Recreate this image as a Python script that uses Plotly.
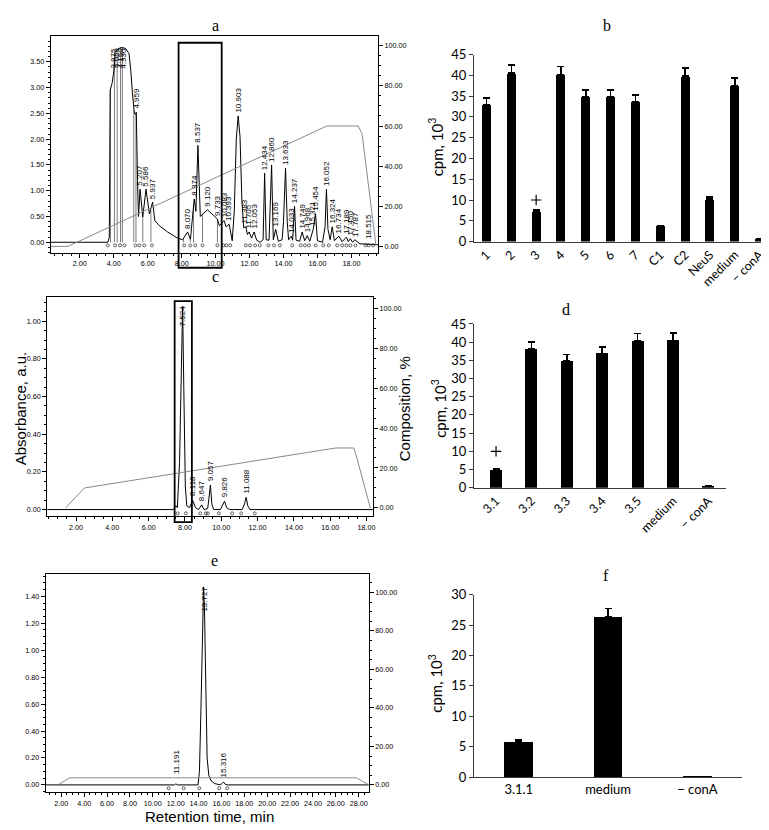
import plotly.graph_objects as go

W, H = 769, 830

# ====================== DATA ======================
# ---- Panel a: chromatogram (time, min ; absorbance, a.u.) ----
a_time = [0.28, 3.65, 3.74, 3.79, 3.90, 4.00, 4.08, 4.25, 4.45, 4.70, 4.90, 5.00, 5.10, 5.20, 5.27,
          5.33, 5.40, 5.46, 5.55, 5.71, 5.90, 6.10, 6.29, 6.42, 6.69, 7.17, 7.76, 8.06, 8.35, 8.52,
          8.74, 8.84, 8.96, 9.10, 9.25, 9.52, 9.85, 10.11, 10.22, 10.50, 10.62, 10.80, 10.98, 11.10,
          11.22, 11.33, 11.44, 11.55, 11.66, 11.78, 11.88, 11.98, 12.12, 12.27, 12.42, 12.62, 12.80,
          12.89, 12.98, 13.15, 13.30, 13.40, 13.54, 13.70, 13.92, 14.00, 14.12, 14.22, 14.30, 14.46,
          14.54, 14.65, 14.74, 14.95, 15.10, 15.25, 15.40, 15.55, 15.75, 15.89, 16.00, 16.30, 16.45,
          16.53, 16.62, 16.75, 16.87, 17.00, 17.26, 17.45, 17.71, 17.82, 17.94, 18.07, 18.20, 18.50,
          19.16, 19.57]
a_abs = [0.00, 0.00, 0.10, 2.95, 3.08, 3.30, 3.68, 3.75, 3.78, 3.76, 3.66, 3.35, 2.90, 2.55, 2.48,
         2.52, 1.20, 0.50, 1.03, 0.49, 1.03, 0.55, 0.78, 0.42, 0.32, 0.20, 0.08, 0.05, 0.20, 0.06,
         0.84, 0.60, 1.88, 0.50, 0.55, 0.63, 0.53, 0.45, 0.32, 0.42, 0.30, 0.35, 0.03, 0.60,
         2.00, 2.45, 2.05, 0.80, 0.28, 0.30, 0.15, 0.20, 0.08, 0.20, 0.04, 0.00, 0.05,
         1.34, 0.05, 0.04, 1.50, 0.05, 0.25, 0.02, 0.05, 0.40, 1.44, 0.40, 0.05, 0.12,
         0.04, 0.70, 0.04, 0.02, 0.20, 0.03, 0.13, 0.02, 0.25, 0.55, 0.03, 0.00, 0.30,
         1.03, 0.25, 0.05, 0.30, 0.03, 0.12, 0.01, 0.10, 0.01, 0.07, 0.00, 0.05, -0.03,
         -0.04, -0.05]
a_grad_time = [0.28, 1.30, 16.55, 18.40, 18.63, 19.44]
a_grad_pct = [0, 0, 60, 60, 56, 1]
a_peak_text = ["4.959", "5.207", "5.586", "5.937", "8.070", "8.374", "8.537", "9.120", "9.733",
               "10.083", "10.393", "10.903", "11.383", "11.705", "12.053", "12.434", "12.860",
               "13.169", "13.633", "14.033", "14.237", "14.749", "14.968", "15.321", "15.454",
               "16.052", "16.324", "16.734", "17.189", "17.450", "17.787", "18.515"]
a_peak_time = [5.33, 5.55, 5.90, 6.29, 8.35, 8.74, 8.96, 9.52, 10.11, 10.50, 10.75, 11.33, 11.72,
               11.95, 12.27, 12.89, 13.30, 13.54, 14.12, 14.46, 14.65, 15.10, 15.40, 15.75, 15.89,
               16.53, 16.87, 17.26, 17.71, 17.94, 18.20, 19.05]
a_peak_abs = [2.55, 1.05, 1.05, 0.80, 0.22, 0.86, 1.90, 0.65, 0.47, 0.44, 0.37, 2.47, 0.32, 0.22,
              0.22, 1.36, 1.52, 0.27, 1.46, 0.14, 0.72, 0.22, 0.15, 0.27, 0.57, 1.05, 0.32, 0.14,
              0.12, 0.09, 0.07, 0.02]
a_top_text = ["3.875", "4.059", "4.150", "4.330"]
a_top_time = [4.00, 4.20, 4.40, 4.59]
a_top_abs = [3.80, 3.80, 3.80, 3.80]
a_drop_time = [3.81, 4.04, 4.20, 4.40, 4.51, 5.18, 5.31, 5.71, 6.19, 8.11, 8.51, 8.70, 9.23, 10.11]
a_drop_abs = [3.00, 3.50, 3.75, 3.78, 3.77, 2.56, 2.50, 0.49, 0.62, 0.06, 0.08, 0.70, 0.55, 0.45]
a_int_time = [3.65, 4.08, 4.37, 4.63, 5.28, 5.51, 5.80, 6.25, 8.15, 8.51, 8.80, 9.23, 10.11, 10.46,
              10.64, 10.86, 11.78, 12.03, 12.33, 12.60, 13.11, 13.44, 13.79, 14.52, 15.01, 15.26,
              15.50, 15.89, 16.34, 16.67, 17.16, 17.46, 17.71, 17.94, 18.24, 18.83, 19.02, 19.28]
a_box_time = [7.82, 10.36]

# ---- Panel b ----
b_cats = ["1", "2", "3", "4", "5", "6", "7", "C1", "C2", "NeuS", "medium", "\u2212 conA"]
b_vals = [33.0, 40.5, 7.3, 40.1, 34.9, 34.8, 33.7, 3.8, 39.8, 10.2, 37.6, 0.7]
b_err = [1.6, 2.0, 0.4, 2.0, 1.6, 1.7, 1.6, 0.0, 1.9, 0.5, 1.8, 0.0]
b_sig_cat = ["3"]
b_sig_val = [10.0]

# ---- Panel c ----
c_time = [0.41, 7.35, 7.50, 7.58, 7.70, 7.78, 7.87, 7.95, 8.02, 8.10, 8.25, 8.42, 8.58, 8.75, 8.92,
          9.05, 9.25, 9.32, 9.40, 9.48, 9.58, 9.95, 10.08, 10.18, 10.30, 10.45, 11.15, 11.28, 11.37,
          11.46, 11.58, 18.36]
c_abs = [0.0, 0.0, 0.02, 0.01, 0.25, 0.75, 1.08, 0.55, 0.12, 0.02, 0.01, 0.05, 0.01, 0.0, 0.025,
         0.0, 0.005, 0.06, 0.13, 0.03, 0.0, 0.0, 0.03, 0.045, 0.01, 0.0, 0.0, 0.03, 0.065,
         0.02, 0.0, 0.0]
c_grad_time = [1.42, 2.46, 16.30, 17.30, 17.44, 18.21]
c_grad_pct = [0, 10, 30, 30, 26, 0]
c_peak_text = ["8.118", "8.647", "9.057", "9.826", "11.088"]
c_peak_time = [8.42, 8.92, 9.40, 10.18, 11.37]
c_peak_abs = [0.06, 0.035, 0.14, 0.055, 0.075]
c_top_text = ["7.524"]
c_top_time = [7.87]
c_top_abs = [1.09]
c_int_time = [7.60, 8.05, 8.84, 9.15, 9.26, 9.87, 10.60, 11.10, 11.84]
c_box_time = [7.43, 8.38]

# ---- Panel d ----
d_cats = ["3.1", "3.2", "3.3", "3.4", "3.5", "medium", "\u2212 conA"]
d_vals = [4.9, 38.2, 34.9, 36.9, 40.3, 40.5, 0.5]
d_err = [0.3, 1.9, 1.7, 1.8, 2.1, 2.0, 0.0]
d_sig_cat = ["3.1"]
d_sig_val = [10.0]

# ---- Panel e ----
e_time = [0.63, 11.90, 12.02, 12.15, 13.95, 14.08, 14.22, 14.35, 14.44, 14.52, 14.62, 14.75, 14.90,
          15.10, 15.40, 15.90, 16.05, 16.18, 16.32, 16.50, 28.88]
e_abs = [0.0, 0.0, 0.008, 0.0, 0.0, 0.10, 0.60, 1.30, 1.47, 1.30, 0.70, 0.20, 0.07,
         0.03, 0.01, 0.0, 0.01, 0.022, 0.005, 0.0, 0.0]
e_grad_time = [1.71, 2.73, 27.80, 28.88]
e_grad_pct = [0, 3.7, 3.7, 0]
e_peak_text = ["11.191", "15.316"]
e_peak_time = [12.02, 16.18]
e_peak_abs = [0.065, 0.04]
e_top_text = ["13.727"]
e_top_time = [14.44]
e_top_abs = [1.48]
e_int_time = [11.39, 12.70, 14.06, 15.80, 16.50]

# ---- Panel f ----
f_cats = ["3.1.1", "medium", "\u2212 conA"]
f_vals = [5.9, 26.4, 0.1]
f_err = [0.3, 1.3, 0.0]

# ====================== LAYOUT GEOMETRY ======================
def PX(x):
    return x / W

def PY(y):
    return 1 - y / H

# chromatogram panels: (x domain, y domain, x range, left y range, right y range)
A = dict(xd=[PX(42.7), PX(371)], yd=[PY(241.5), PY(20.7)], xr=[0.28, 19.57],
         yl=[-0.205, 3.995], yr=[-3.2, 104.7], dl=0.5, ml=0.1, io=-0.06)
C = dict(xd=[PX(39.3), PX(366)], yd=[PY(510), PY(287)], xr=[0.41, 18.36],
         yl=[-0.035, 1.126], yr=[-4.1, 105.3], dl=0.2, ml=0.05, io=-0.02)
E = dict(xd=[PX(37.7), PX(361.7)], yd=[PY(791.7), PY(569.3)], xr=[0.63, 28.88],
         yl=[-0.056, 1.563], yr=[-3.9, 109.4], dl=0.2, ml=0.05, io=-0.025)

TICKFONT = dict(size=7.2, family="Liberation Sans", color="black")
BARFONT = "Lato"


def chrom_axes(P, xname, yname, y2name):
    xa = dict(domain=P["xd"], range=P["xr"], anchor=yname, tick0=0, dtick=2, tickformat=".2f",
              ticks="outside", ticklen=4, tickwidth=1, tickcolor="black",
              minor=dict(ticks="outside", ticklen=2, dtick=0.5, tickcolor="black", tickwidth=0.7),
              showline=True, linecolor="black", linewidth=1, mirror=True,
              showgrid=False, zeroline=False, tickfont=TICKFONT)
    ya = dict(domain=P["yd"], range=P["yl"], anchor=xname, tick0=0, dtick=P["dl"], tickformat=".2f",
              ticks="outside", ticklen=4, tickwidth=1, tickcolor="black",
              minor=dict(ticks="outside", ticklen=2, dtick=P["ml"], tickcolor="black", tickwidth=0.7),
              showline=True, linecolor="black", linewidth=1, mirror=True,
              showgrid=False, zeroline=False, tickfont=TICKFONT)
    y2 = dict(overlaying=yname, side="right", anchor=xname, range=P["yr"], tick0=0, dtick=20,
              tickformat=".2f", ticks="outside", ticklen=4, tickwidth=1, tickcolor="black",
              minor=dict(ticks="outside", ticklen=2, dtick=5, tickcolor="black", tickwidth=0.7),
              showline=True, linecolor="black", linewidth=1,
              showgrid=False, zeroline=False, tickfont=TICKFONT)
    return xa, ya, y2


def bar_axes(xdom, ydom, xrange, yrange, ydtick, xname, yname, tickangle):
    xa = dict(domain=xdom, range=xrange, anchor=yname, type="category", showline=True,
              linecolor="#3a3a3a", linewidth=1.2, ticks="", showgrid=False, zeroline=False,
              tickangle=tickangle, tickfont=dict(size=12.5, family=BARFONT, color="black"))
    ya = dict(domain=ydom, range=yrange, anchor=xname, dtick=ydtick, showline=True,
              linecolor="#3a3a3a", linewidth=1.2, ticks="outside", ticklen=4, tickcolor="#3a3a3a",
              showgrid=False, zeroline=False,
              tickfont=dict(size=13, family=BARFONT, color="black"))
    return xa, ya


fig = go.Figure()

# ---------------- chromatogram traces ----------------
def add_chrom(P, t, v, gt, gp, dt, dv, it, xname, yname, y2name):
    fig.add_trace(go.Scatter(x=gt, y=gp, mode="lines", line=dict(color="#8a8a8a", width=1),
                             xaxis=xname, yaxis=y2name, hoverinfo="skip"))
    if dt:
        xs, ys = [], []
        for tt, vv in zip(dt, dv):
            xs += [tt, tt, None]
            ys += [0, vv, None]
        fig.add_trace(go.Scatter(x=xs, y=ys, mode="lines", line=dict(color="#444", width=0.7),
                                 xaxis=xname, yaxis=yname, hoverinfo="skip"))
    fig.add_trace(go.Scatter(x=t, y=v, mode="lines", line=dict(color="black", width=1),
                             xaxis=xname, yaxis=yname))
    fig.add_trace(go.Scatter(x=it, y=[P["io"]] * len(it), mode="markers",
                             marker=dict(symbol="circle-open", size=3, color="black",
                                         line=dict(width=0.6, color="black")),
                             xaxis=xname, yaxis=yname, hoverinfo="skip"))


add_chrom(A, a_time, a_abs, a_grad_time, a_grad_pct, a_drop_time, a_drop_abs, a_int_time, "x", "y", "y2")
add_chrom(C, c_time, c_abs, c_grad_time, c_grad_pct, [], [], c_int_time, "x3", "y4", "y5")
add_chrom(E, e_time, e_abs, e_grad_time, e_grad_pct, [], [], e_int_time, "x5", "y7", "y8")

# ---------------- bar traces ----------------
def add_bars(cats, vals, err, width, xname, yname):
    fig.add_trace(go.Bar(x=cats, y=vals, width=width, marker=dict(color="black", line=dict(width=0)),
                         error_y=dict(type="data", array=err, arrayminus=[0] * len(err),
                                      symmetric=False, color="black", thickness=1.6, width=3.5),
                         xaxis=xname, yaxis=yname))


add_bars(b_cats, b_vals, b_err, 0.36, "x2", "y3")
add_bars(d_cats, d_vals, d_err, 0.34, "x4", "y6")
add_bars(f_cats, f_vals, f_err, 0.32, "x6", "y9")
for cats, vals, xn, yn in [(b_sig_cat, b_sig_val, "x2", "y3"), (d_sig_cat, d_sig_val, "x4", "y6")]:
    fig.add_trace(go.Scatter(x=cats, y=vals, mode="markers", xaxis=xn, yaxis=yn,
                             marker=dict(symbol="cross-thin", size=7.5,
                                         line=dict(width=1.2, color="black"))))

# ---------------- axes ----------------
layout = dict(width=W, height=H, margin=dict(l=0, r=0, t=0, b=0), showlegend=False,
              plot_bgcolor="white", paper_bgcolor="white", bargap=0)
xa, ya, y2 = chrom_axes(A, "x", "y", "y2")
layout.update(xaxis=xa, yaxis=ya, yaxis2=y2)
xa, ya, y2 = chrom_axes(C, "x3", "y4", "y5")
layout.update(xaxis3=xa, yaxis4=ya, yaxis5=y2)
xa, ya, y2 = chrom_axes(E, "x5", "y7", "y8")
layout.update(xaxis5=xa, yaxis7=ya, yaxis8=y2)

xa, ya = bar_axes([PX(467.3), PX(766)], [PY(230), PY(39.3)], [-0.5, 11.5], [0, 45], 5, "x2", "y3", -45)
layout.update(xaxis2=xa, yaxis3=ya)
xa, ya = bar_axes([PX(467.3), PX(720)], [PY(481), PY(314)], [-0.62, 6.5], [0, 45], 5, "x4", "y6", -45)
layout.update(xaxis4=xa, yaxis6=ya)
xa, ya = bar_axes([PX(467.3), PX(736)], [PY(776), PY(590)], [-0.5, 2.5], [0, 30], 5, "x6", "y9", 0)
xa["tickfont"]["size"] = 13
layout.update(xaxis6=xa, yaxis9=ya)

# ---------------- annotations ----------------
ann = []
LBL = dict(size=8, family="Liberation Sans", color="black")


def peak_labels(texts, ts, vs, xname, yname, anchor):
    for s, t, v in zip(texts, ts, vs):
        ann.append(dict(text=s, x=t, y=v, xref=xname, yref=yname, showarrow=False, textangle=-90,
                        xanchor="center", yanchor=anchor, font=LBL, borderpad=0,
                        yshift=1 if anchor == "bottom" else 0))


peak_labels(a_peak_text, a_peak_time, a_peak_abs, "x", "y", "bottom")
peak_labels(a_top_text, a_top_time, a_top_abs, "x", "y", "top")
peak_labels(c_peak_text, c_peak_time, c_peak_abs, "x3", "y4", "bottom")
peak_labels(c_top_text, c_top_time, c_top_abs, "x3", "y4", "top")
peak_labels(e_peak_text, e_peak_time, e_peak_abs, "x5", "y7", "bottom")
peak_labels(e_top_text, e_top_time, e_top_abs, "x5", "y7", "top")

TITLE = dict(size=16, family="Liberation Serif", color="black")
for s, x, y in [("a", 208, 10), ("b", 601, 10), ("c", 208, 266), ("d", 559, 299),
                ("e", 207, 555), ("f", 600, 570)]:
    ann.append(dict(text=s, x=PX(x), y=PY(y), xref="paper", yref="paper", showarrow=False,
                    xanchor="center", yanchor="middle", font=TITLE))

YT = dict(size=15, family=BARFONT, color="black")
for x, y in [(429, 133), (431.7, 400), (429, 680)]:
    ann.append(dict(text="cpm, 10<sup>3</sup>", x=PX(x), y=PY(y), xref="paper", yref="paper",
                    showarrow=False, textangle=-90, xanchor="center", yanchor="middle", font=YT))

AX = dict(size=15, family="Liberation Sans", color="black")
ann.append(dict(text="Absorbance, a.u.", x=PX(12), y=PY(400), xref="paper", yref="paper",
                showarrow=False, textangle=-90, xanchor="center", yanchor="middle", font=AX))
ann.append(dict(text="Composition, %", x=PX(397), y=PY(400), xref="paper", yref="paper",
                showarrow=False, textangle=-90, xanchor="center", yanchor="middle", font=AX))
ann.append(dict(text="Retention time, min", x=PX(201.7), y=PY(816.7), xref="paper", yref="paper",
                showarrow=False, xanchor="center", yanchor="middle", font=AX))
layout["annotations"] = ann


# ---------------- highlight boxes ----------------
def t2paper(P, t):
    return P["xd"][0] + (t - P["xr"][0]) / (P["xr"][1] - P["xr"][0]) * (P["xd"][1] - P["xd"][0])


layout["shapes"] = [
    dict(type="rect", xref="paper", yref="paper", x0=t2paper(A, a_box_time[0]), x1=t2paper(A, a_box_time[1]),
         y0=PY(256.7), y1=PY(27.3), line=dict(color="black", width=1.8)),
    dict(type="rect", xref="paper", yref="paper", x0=t2paper(C, c_box_time[0]), x1=t2paper(C, c_box_time[1]),
         y0=PY(516), y1=PY(290.7), line=dict(color="black", width=1.8)),
]

fig.update_layout(layout)
fig.write_html("out.html")
